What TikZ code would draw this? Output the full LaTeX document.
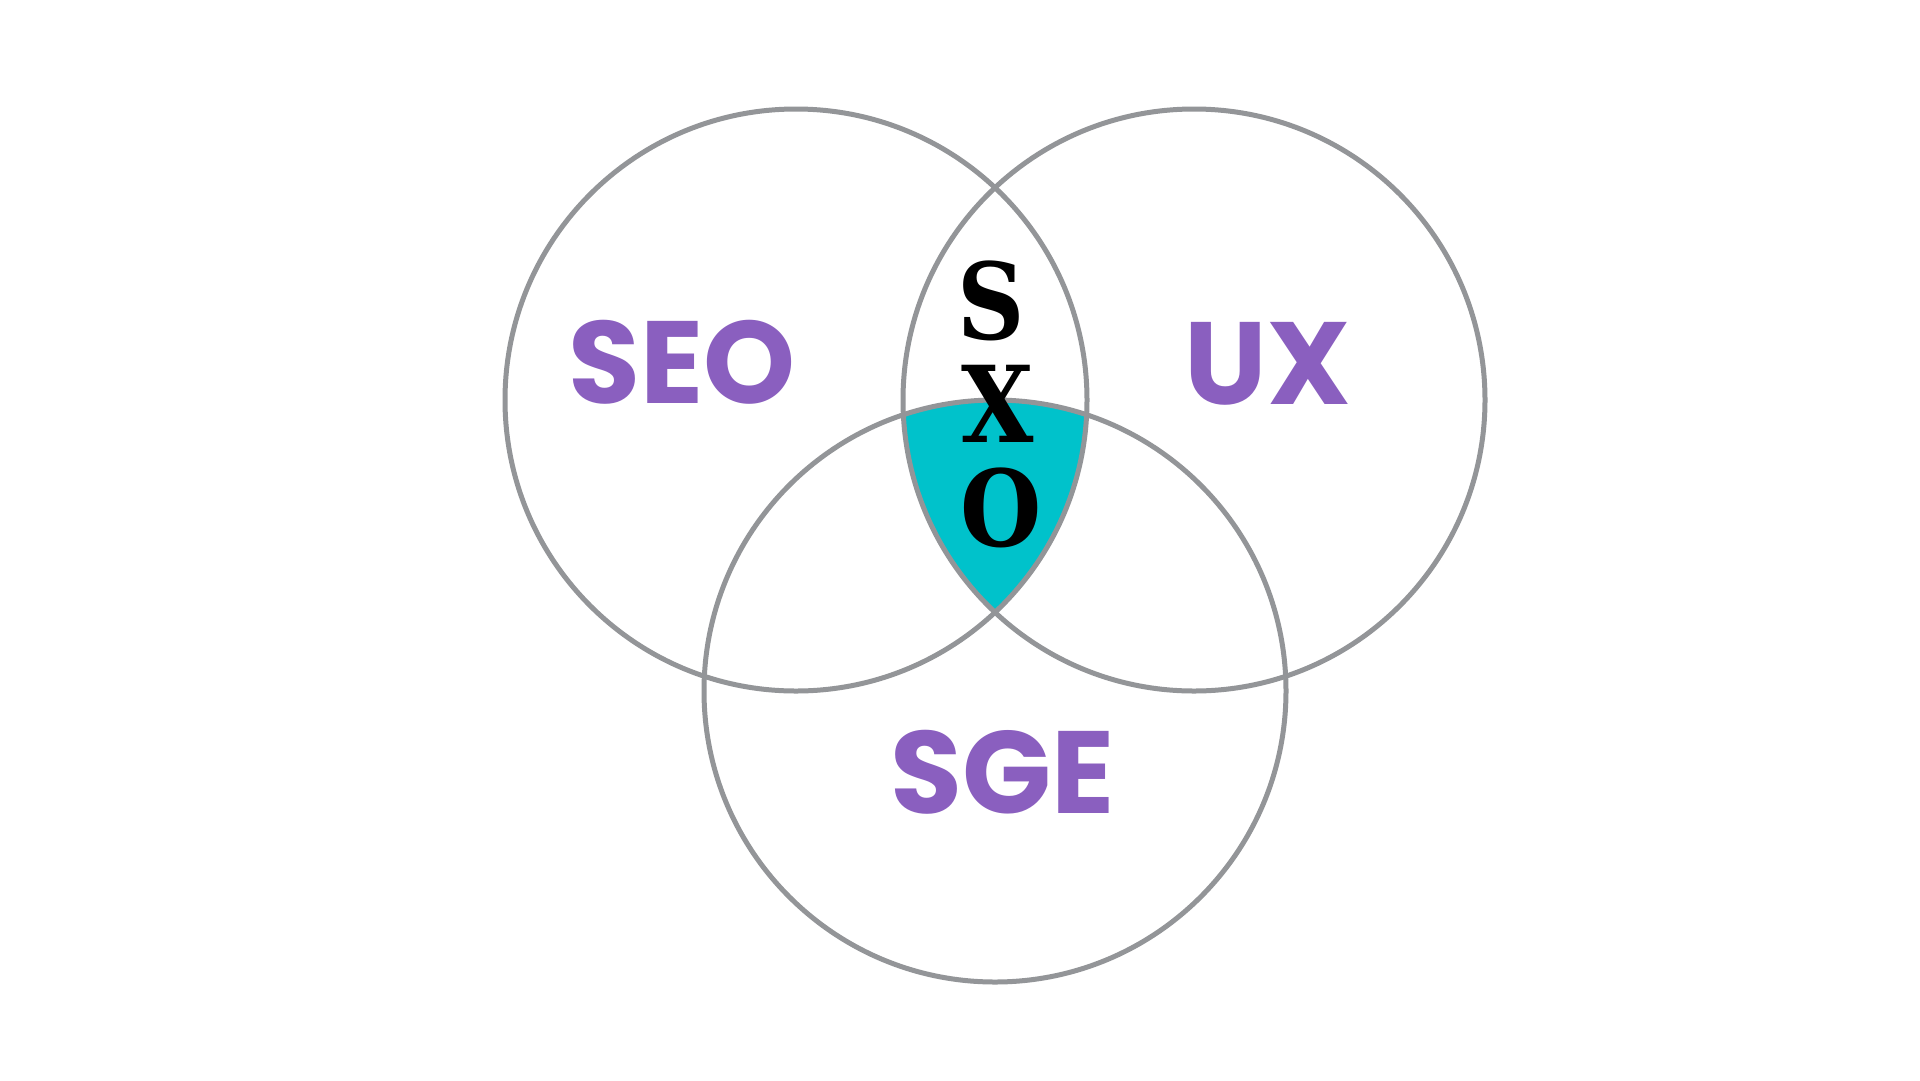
\documentclass[tikz,border=0pt]{standalone}
\usepackage{fontspec}
\newfontfamily\labelfont{Poppins}[UprightFont=* Bold]
\newfontfamily\sxofont{DejaVu Serif}[UprightFont=* Bold, FakeStretch=0.88]
\definecolor{ringgray}{HTML}{939598}
\definecolor{sxoteal}{HTML}{00C2CB}
\definecolor{labelpurple}{HTML}{8A5FBF}
\tikzset{
  ring/.style={draw=ringgray, line width=5pt},
  setlabel/.style={text=labelpurple, font=\labelfont\fontsize{117}{117}\selectfont, inner sep=0pt, anchor=center},
  sxoletter/.style={text=black, font=\sxofont\fontsize{106}{106}\selectfont, inner sep=0pt, anchor=center}
}
\begin{document}
\begin{tikzpicture}[x=1pt,y=-1pt]
\useasboundingbox (0,0) rectangle (1920,1080);
\fill[white] (0,0) rectangle (1920,1080);
\coordinate (cseo) at (796,400);
\coordinate (cux) at (1194,400);
\coordinate (csge) at (995,691);
\begin{scope}
  \clip (cseo) circle[radius=291];
  \clip (cux) circle[radius=291];
  \fill[sxoteal] (csge) circle[radius=291];
\end{scope}
\draw[ring] (cseo) circle[radius=291];
\draw[ring] (cux) circle[radius=291];
\draw[ring] (csge) circle[radius=291];
\node[setlabel] (seo) at (682,362) {SEO};
\node[setlabel] (ux) at (1268,364) {UX};
\node[setlabel] (sge) at (1003,772) {SGE};
\node[sxoletter] (s) at (991,301) {S};
\node[sxoletter] (x) at (998,404) {X};
\node[sxoletter] (o) at (1001,508) {O};
\end{tikzpicture}
\end{document}
